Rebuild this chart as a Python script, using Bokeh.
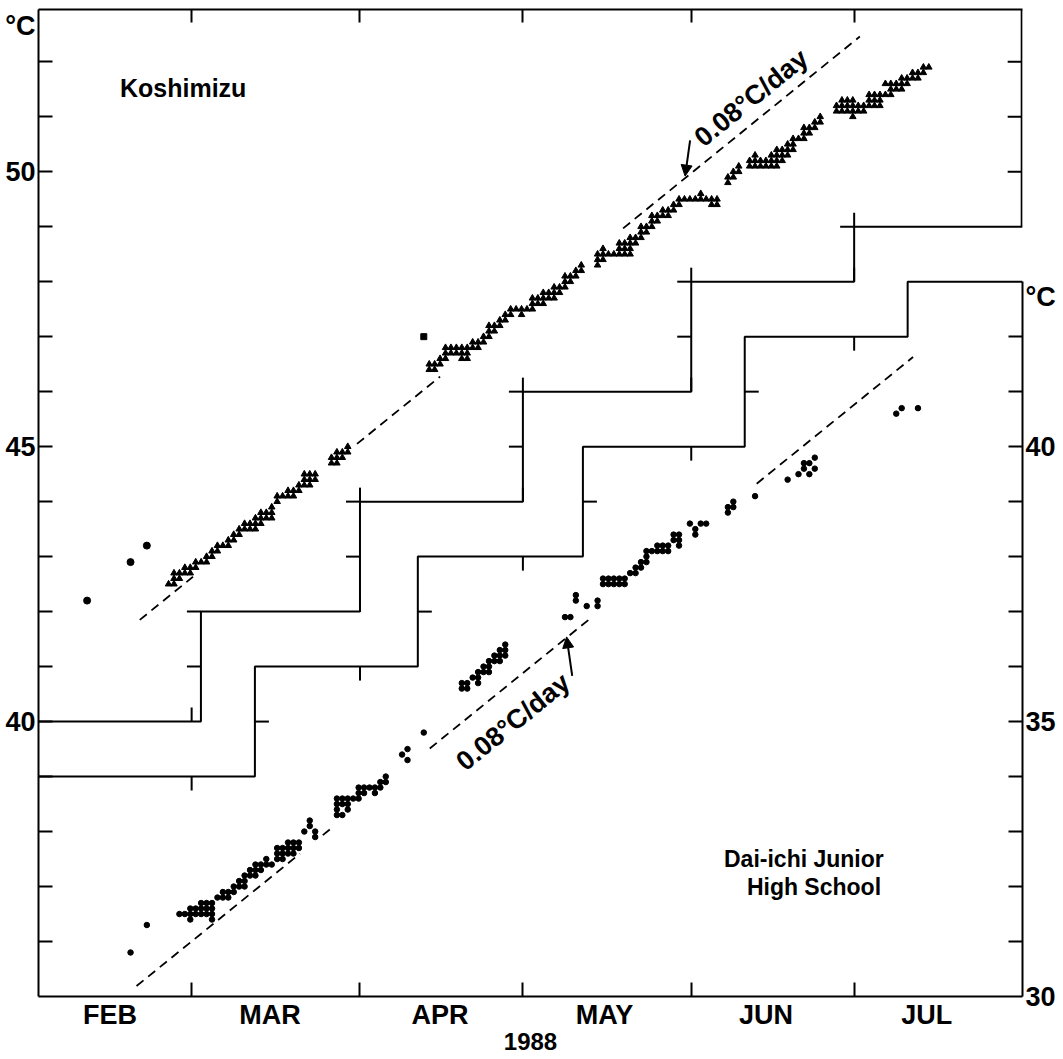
import math
from bokeh.plotting import figure
from bokeh.models import Range1d, LinearAxis, FixedTicker, Label, Arrow, NormalHead
from bokeh.embed import file_html
from bokeh.resources import INLINE

# ---------------- data ----------------
# x = day counted from 1 Feb 1988 (Feb N -> N, Mar N -> 29+N, ...)
month_names = ["FEB", "MAR", "APR", "MAY", "JUN", "JUL"]
month_label_days = [14.2, 43.7, 75.0, 105.3, 135.0, 164.6]
month_boundaries = [29.25, 60.25, 90.25, 121.25, 151.25]
left_labels = [40, 45, 50]
right_labels = [30, 35, 40]
year_label = "1988"
unit_label = "°C"

# Koshimizu (left scale): rows of triangles (temperature, days)
kosh_levels = [42.5, 42.6, 42.7, 42.8, 42.9, 43.0, 43.1, 43.2, 43.3, 43.4, 43.5, 43.6, 43.7,
               43.8, 43.9, 44.0, 44.1, 44.2, 44.3, 44.4, 44.5, 44.7, 44.8, 44.9, 45.0,
               46.4, 46.5, 46.6, 46.7, 46.8, 46.9, 47.0, 47.1, 47.2, 47.3, 47.4, 47.5, 47.6,
               47.7, 47.8, 47.9, 48.0, 48.1, 48.2, 48.3,
               48.4, 48.5, 48.6, 48.7, 48.8, 48.9, 49.0, 49.1, 49.2, 49.3, 49.4, 49.5, 49.6,
               49.8, 49.9, 50.0, 50.1, 50.2, 50.3, 50.4, 50.5, 50.6, 50.7, 50.8, 50.9, 51.0,
               51.1, 51.2, 51.3, 51.4, 51.5, 51.6, 51.7, 51.8, 51.9]
kosh_days = [[25, 26], [26, 27], [26, 27, 28, 29], [28, 29, 30], [30, 31, 32], [32, 33],
             [33, 34], [34, 35, 36], [36, 37], [37, 38], [38, 39, 40, 41], [39, 40, 41, 42],
             [41, 42, 43, 44], [42, 43, 44], [44], [45], [45, 46, 47, 48], [47, 48, 49],
             [49, 50, 51], [50, 51, 52], [50, 51, 52], [55, 56], [55, 56, 57], [56, 57, 58], [58],
             [73, 74], [73, 74, 75], [75, 76, 79, 80], [76, 77, 78, 79, 80],
             [76, 77, 78, 79, 80, 81, 82], [81, 82, 83], [83, 84], [84, 85], [84, 85, 86],
             [86, 87], [87, 88, 90], [88, 89, 90, 91, 92], [92, 93, 94], [92, 93, 94, 95, 96],
             [94, 95, 96, 97], [96, 97, 98], [98, 99], [98, 99, 100], [100, 101], [101, 104],
             [104, 105], [104, 105, 106, 107, 108, 109, 110], [105, 108, 109, 110],
             [108, 109, 110, 111], [110, 111, 112], [112, 113], [112, 113, 114], [114, 115],
             [114, 115, 116, 117], [116, 117, 118], [118, 119, 125, 126],
             [119, 120, 121, 122, 123, 124, 125, 126], [123],
             [128], [128, 129], [129, 130], [130, 132, 133, 134, 135, 136, 137],
             [132, 133, 134, 135, 136, 137, 138], [133, 136, 137, 138, 139], [137, 138, 139, 140],
             [139, 140], [140, 141, 142], [142, 143], [142, 143, 144], [144, 145], [145, 151],
             [148, 149, 150, 151, 152, 153], [148, 149, 150, 151, 152, 153, 154, 155, 156],
             [149, 150, 151, 154, 155, 156], [154, 155, 156, 157, 158], [158, 159, 160],
             [157, 158, 159, 160, 161], [160, 161, 162, 163], [162, 163, 164], [164, 165]]
kosh_dot_day = [10, 18, 21]
kosh_dot_temp = [42.2, 42.9, 43.2]
kosh_square_day = [72]
kosh_square_temp = [47.0]

# Dai-ichi Junior High School (right scale): rows of dots (temperature, days)
dai_levels = [30.8, 31.3, 31.4, 31.5, 31.6, 31.7, 31.8, 31.9, 32.0, 32.1, 32.2, 32.3, 32.4,
              32.5, 32.6, 32.7, 32.8, 32.9, 33.0, 33.1, 33.2, 33.3, 33.4, 33.5, 33.6, 33.7,
              33.8, 33.9, 34.0, 34.3, 34.4, 34.5, 34.8,
              35.6, 35.7, 35.8, 35.9, 36.0, 36.1, 36.2, 36.3, 36.4,
              36.9, 37.1, 37.2, 37.3, 37.5, 37.6, 37.7, 37.8, 37.9, 38.0, 38.1, 38.2, 38.3,
              38.4, 38.5, 38.6, 38.8, 38.9, 39.0, 39.1, 39.4, 39.5, 39.6, 39.7, 39.8,
              40.6, 40.7]
dai_days = [[18], [21], [29, 33], [27, 28, 29, 30, 31, 32, 33], [29, 30, 31, 32, 33],
            [31, 32, 33], [34, 35, 36], [35, 36, 37], [37, 38, 39], [38, 39], [39, 40, 41],
            [40, 41, 42], [41, 42, 43, 44], [43, 45, 46], [45, 46, 47, 48],
            [45, 46, 47, 48, 49], [47, 48, 49], [52], [50, 52], [51], [51], [56, 57],
            [56, 58], [56, 57, 58], [56, 57, 58, 59, 60], [60, 61, 63], [60, 61, 62, 63, 64],
            [64, 65], [65], [69], [68], [69], [72],
            [79, 80], [79, 80, 82], [81, 82], [82, 83, 84], [83, 84], [84, 85, 86],
            [85, 86, 87], [86, 87], [87],
            [98, 99], [102, 104], [100, 104], [100], [105, 106, 107, 108, 109],
            [105, 106, 107, 108, 109], [110, 111], [111, 112], [112, 113], [113],
            [113, 114, 115, 116, 117], [115, 116, 117, 119], [118, 119], [118, 119, 122],
            [122], [121, 123, 124], [128], [128, 129], [129], [133], [139], [141, 143],
            [142, 144], [142, 143], [144], [159], [160, 163]]

# 0.08 C/day reference lines
rate = 0.08
kosh_trend_day0, kosh_trend_temp0 = 19.7, 41.85
kosh_trend_spans = [(19.7, 29.5), (59.7, 75.0), (108.7, 152.3)]
dai_trend_day0, dai_trend_temp0 = 19.1, 30.19
dai_trend_spans = [(19.1, 49.2), (53.4, 55.4), (73.1, 103.0), (133.3, 162.1)]

# staircase borders between the two panels
stepA_bounds = [30.96, 60.25, 90.25, 121.25, 151.25]   # Koshimizu panel bottom (left scale)
stepA_levels = [40, 42, 44, 46, 48, 49]
stepB_bounds = [40.9, 70.9, 101.3, 131.1, 161.1]       # Dai-ichi panel top (right scale)
stepB_levels = [34, 36, 38, 40, 42, 43]

# ---------------- layout ----------------
FONT = "Liberation Sans"
X0, X1 = 1.05, 182.25
YL0, YL1 = 35.0, 52.95
YR0, YR1 = 30.0, 47.95
W, H = 1063, 1059
BL, BR, BT, BB = 38, 41, 9, 63
FW, FH = W - BL - BR, H - BT - BB
px_day = FW / (X1 - X0)
px_deg = FH / (YL1 - YL0)
TICK = 14
tdx = TICK / px_day
tdy = TICK / px_deg
unit_left_pos = YL1 - 16 / px_deg       # where the left "°C" sits
unit_right_pos = YR1 - 287 / px_deg     # where the right "°C" sits

p = figure(width=W, height=H, x_range=Range1d(X0, X1), y_range=Range1d(YL0, YL1),
           output_backend="svg", toolbar_location=None,
           x_axis_location=None, y_axis_location=None,
           min_border_left=BL, min_border_right=BR, min_border_top=BT, min_border_bottom=BB)
p.extra_y_ranges = {"right": Range1d(YR0, YR1)}
p.outline_line_color = None
p.background_fill_color = "white"
p.border_fill_color = "white"
p.grid.grid_line_color = None


def style_axis(ax, size="27px"):
    ax.axis_line_width = 2
    ax.axis_line_color = "black"
    ax.major_tick_line_width = 2
    ax.minor_tick_line_width = 2
    ax.minor_tick_line_color = "black"
    ax.major_tick_out = 0
    ax.major_tick_in = 0
    ax.minor_tick_out = 0
    ax.major_tick_line_color = None
    ax.major_label_text_font = FONT
    ax.major_label_text_font_size = size
    ax.major_label_text_font_style = "bold"
    ax.major_label_text_color = "black"


# left axis: labels 40/45/50 and the unit, tick marks as minor ticks
lmaj = left_labels + [unit_left_pos]
yl = LinearAxis(ticker=FixedTicker(ticks=lmaj, minor_ticks=list(range(36, 53))),
                major_label_overrides=dict([(t, str(t)) for t in left_labels] +
                                           [(unit_left_pos, unit_label)]))
style_axis(yl)
yl.minor_tick_in = TICK
yl.major_label_standoff = 3
p.add_layout(yl, "left")

# right axis (Dai-ichi scale, lower part only)
rmaj = right_labels + [unit_right_pos]
yr = LinearAxis(y_range_name="right", bounds=(30, 43),
                ticker=FixedTicker(ticks=rmaj, minor_ticks=list(range(31, 43))),
                major_label_overrides=dict([(t, str(t)) for t in right_labels] +
                                           [(unit_right_pos, unit_label)]))
style_axis(yr)
yr.minor_tick_in = TICK
yr.major_label_standoff = 3
p.add_layout(yr, "right")

# bottom axis: month names between month-boundary ticks, year as axis label
xb = LinearAxis(ticker=FixedTicker(ticks=month_label_days, minor_ticks=month_boundaries),
                major_label_overrides={d: n for d, n in zip(month_label_days, month_names)},
                axis_label=year_label)
style_axis(xb, "27px")
xb.minor_tick_in = TICK
xb.major_label_standoff = 3
xb.axis_label_standoff = 0
xb.axis_label_text_font = FONT
xb.axis_label_text_font_size = "24px"
xb.axis_label_text_font_style = "bold"
xb.axis_label_text_color = "black"
p.add_layout(xb, "below")

# top axis: month-boundary ticks only
xt = LinearAxis(ticker=FixedTicker(ticks=[], minor_ticks=month_boundaries))
style_axis(xt)
xt.minor_tick_in = TICK - 1
xt.major_label_standoff = 0
p.add_layout(xt, "above")


# staircases
def stair(bounds, levels):
    xs, ys = [X0], [levels[0]]
    for b, a, c in zip(bounds, levels[:-1], levels[1:]):
        xs += [b, b]
        ys += [a, c]
    xs.append(X1)
    ys.append(levels[-1])
    return xs, ys


ax_, ay_ = stair(stepA_bounds, stepA_levels)
p.line(ax_, ay_, line_color="black", line_width=2)
bx_, by_ = stair(stepB_bounds, stepB_levels)
p.line(bx_, by_, line_color="black", line_width=2, y_range_name="right")

# staircase ticks
segA = {"x0": [], "y0": [], "x1": [], "y1": []}
edgesA = [X0] + stepA_bounds + [X1]
for i, lev in enumerate(stepA_levels):
    for mb in month_boundaries:
        if edgesA[i] - 0.01 <= mb <= edgesA[i + 1] + 0.01:
            segA["x0"].append(mb); segA["y0"].append(lev)
            segA["x1"].append(mb); segA["y1"].append(lev + tdy)
for b, lo, hi in zip(stepA_bounds, stepA_levels[:-1], stepA_levels[1:]):
    for t in range(lo + 1, hi + 1):
        segA["x0"].append(b); segA["y0"].append(t)
        segA["x1"].append(b - tdx); segA["y1"].append(t)
# upper part of the right frame (Koshimizu scale)
xe = X1 - 0.15
p.segment([xe], [stepA_levels[-1]], [xe], [YL1], line_color="black", line_width=2)
for t in range(stepA_levels[-1] + 1, int(YL1) + 1):
    segA["x0"].append(xe); segA["y0"].append(t)
    segA["x1"].append(xe - tdx); segA["y1"].append(t)
p.segment(x0="x0", y0="y0", x1="x1", y1="y1", source=segA, line_color="black", line_width=2)

segB = {"x0": [], "y0": [], "x1": [], "y1": []}
edgesB = [X0] + stepB_bounds + [X1]
for i, lev in enumerate(stepB_levels):
    for mb in month_boundaries:
        if edgesB[i] < mb < edgesB[i + 1]:
            segB["x0"].append(mb); segB["y0"].append(lev)
            segB["x1"].append(mb); segB["y1"].append(lev - tdy)
for b, lo, hi in zip(stepB_bounds, stepB_levels[:-1], stepB_levels[1:]):
    for t in range(lo + 1, hi):
        segB["x0"].append(b); segB["y0"].append(t)
        segB["x1"].append(b + tdx); segB["y1"].append(t)
p.segment(x0="x0", y0="y0", x1="x1", y1="y1", source=segB, line_color="black",
          line_width=2, y_range_name="right")

# reference lines 0.08 C/day
for a, b in kosh_trend_spans:
    p.line([a, b], [kosh_trend_temp0 + rate * (a - kosh_trend_day0),
                    kosh_trend_temp0 + rate * (b - kosh_trend_day0)],
           line_color="black", line_width=1.8, line_dash="9 6")
for a, b in dai_trend_spans:
    p.line([a, b], [dai_trend_temp0 + rate * (a - dai_trend_day0),
                    dai_trend_temp0 + rate * (b - dai_trend_day0)],
           line_color="black", line_width=1.8, line_dash="9 6", y_range_name="right")

# data
kd, kt = [], []
for lev, days in zip(kosh_levels, kosh_days):
    for d in days:
        kd.append(d); kt.append(lev)
p.scatter(kd, kt, marker="triangle", size=6.5, color="black")
p.scatter(kosh_dot_day, kosh_dot_temp, marker="circle", size=7, color="black")
p.scatter(kosh_square_day, kosh_square_temp, marker="square", size=6, color="black")

dd, dt = [], []
for lev, days in zip(dai_levels, dai_days):
    for d in days:
        dd.append(d); dt.append(lev)
p.scatter(dd, dt, marker="circle", size=5.5, color="black", y_range_name="right")

# annotations
ang = math.atan(rate * px_deg / px_day)


def lab(x, y, text, size, **kw):
    p.add_layout(Label(x=x, y=y, text=text, text_font=FONT, text_font_size=size,
                       text_font_style="bold", text_color="black", **kw))


lab(16.05, 51.52, "Koshimizu", "25px", text_baseline="alphabetic")
lab(156.7, 32.5, "Dai-ichi Junior", "23px", text_align="right", text_baseline="alphabetic",
    y_range_name="right")
lab(156.2, 31.99, "High School", "23px", text_align="right", text_baseline="alphabetic",
    y_range_name="right")
lab(122.5, 50.56, "0.08°C/day", "27px", angle=ang, text_baseline="alphabetic")
lab(78.65, 34.21, "0.08°C/day", "27px", angle=ang, text_baseline="alphabetic",
    y_range_name="right")

p.add_layout(Arrow(end=NormalHead(size=11, fill_color="black", line_color="black"),
                   x_start=121.04, y_start=50.57, x_end=120.12, y_end=49.92,
                   line_width=2, line_color="black"))
p.add_layout(Arrow(end=NormalHead(size=11, fill_color="black", line_color="black"),
                   x_start=99.33, y_start=35.83, x_end=98.3, y_end=36.54,
                   line_width=2, line_color="black", y_range_name="right"))

open("out.html", "w").write(file_html(p, INLINE))
